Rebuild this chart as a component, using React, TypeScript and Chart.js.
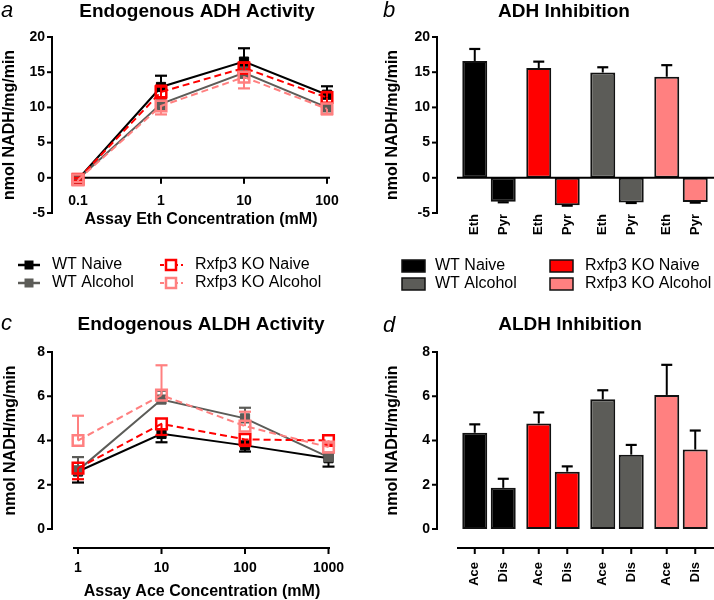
import React, { useEffect, useRef } from "react";
import { Chart, registerables } from "chart.js";
Chart.register(...registerables);

const FONT = 'Arial, "Liberation Sans", Helvetica, sans-serif';

// ---- shared series identity ----
const seriesNames = ["WT Naive", "WT Alcohol", "Rxfp3 KO Naive", "Rxfp3 KO Alcohol"];
const seriesColors = ["#000000", "#5c5c58", "#ff0000", "#ff8080"];
const seriesDashed = [false, false, true, true];

// ---- (a) Endogenous ADH Activity ----
const ethConc = [0.1, 1, 10, 100];
const ethTickLabels = ["0.1", "1", "10", "100"];
const adhYTicks = [-5, 0, 5, 10, 15, 20];
const adhWtNaive = [-0.2, 12.9, 16.5, 11.8];
const adhWtNaiveSem = [0.2, 1.6, 1.9, 1.2];
const adhWtAlcohol = [-0.2, 10.5, 14.9, 10.0];
const adhWtAlcoholSem = [0.2, 0.8, 0.7, 0.5];
const adhKoNaive = [-0.2, 12.2, 15.6, 11.4];
const adhKoNaiveSem = [0.2, 0.9, 0.8, 0.8];
const adhKoAlcohol = [-0.3, 10.2, 14.3, 9.8];
const adhKoAlcoholSem = [0.3, 1.2, 1.6, 0.8];
const adhErrDir = ["up", "both", "both", "down"];

// ---- (b) ADH Inhibition ----
const inhibGroups = ["WT Naive", "Rxfp3 KO Naive", "WT Alcohol", "Rxfp3 KO Alcohol"];
const adhInhibLabels = ["Eth", "Pyr"];
const adhEth = [16.6, 15.6, 14.95, 14.35];
const adhEthSem = [1.7, 0.9, 0.75, 1.65];
const adhPyr = [-3.4, -3.9, -3.5, -3.45];
const adhPyrSem = [0.08, 0.06, 0.08, 0.08];

// ---- (c) Endogenous ALDH Activity ----
const aceConc = [1, 10, 100, 1000];
const aceTickLabels = ["1", "10", "100", "1000"];
const aldhYTicks = [0, 2, 4, 6, 8];
const aldhWtNaive = [2.6, 4.3, 3.78, 3.2];
const aldhWtNaiveSem = [0.5, 0.38, 0.28, 0.38];
const aldhWtAlcohol = [2.65, 5.85, 5.0, 3.25];
const aldhWtAlcoholSem = [0.6, 0.4, 0.48, 0.2];
const aldhKoNaive = [2.75, 4.75, 4.05, 4.0];
const aldhKoNaiveSem = [0.5, 0.5, 0.3, 0.15];
const aldhKoAlcohol = [4.0, 6.05, 4.65, 3.7];
const aldhKoAlcoholSem = [1.12, 1.35, 0.65, 0.2];
const aldhErrDir = ["down", "up", "down", "up"];

// ---- (d) ALDH Inhibition ----
const aldhInhibLabels = ["Ace", "Dis"];
const aldhAce = [4.35, 4.77, 5.86, 6.06];
const aldhAceSem = [0.38, 0.5, 0.41, 1.36];
const aldhDis = [1.86, 2.59, 3.36, 3.59];
const aldhDisSem = [0.41, 0.24, 0.44, 0.86];

// ---------- drawing helpers ----------
function txt(ctx: CanvasRenderingContext2D, s: string, x: number, y: number, font: string,
  align: CanvasTextAlign = "center", baseline: CanvasTextBaseline = "middle", rot = 0, color = "#000") {
  ctx.save();
  ctx.translate(x, y);
  if (rot) ctx.rotate(rot);
  ctx.font = font;
  ctx.fillStyle = color;
  ctx.textAlign = align;
  ctx.textBaseline = baseline;
  ctx.fillText(s, 0, 0);
  ctx.restore();
}
function seg(ctx: CanvasRenderingContext2D, x1: number, y1: number, x2: number, y2: number,
  w = 2, color = "#000", dash: number[] = []) {
  ctx.save();
  ctx.beginPath();
  ctx.lineWidth = w;
  ctx.strokeStyle = color;
  ctx.setLineDash(dash);
  ctx.lineCap = "butt";
  ctx.moveTo(x1, y1);
  ctx.lineTo(x2, y2);
  ctx.stroke();
  ctx.restore();
}
function drawYAxis(ctx: CanvasRenderingContext2D, ys: any, axisX: number, ticks: number[]) {
  const top = ys.getPixelForValue(ticks[ticks.length - 1]);
  const bot = ys.getPixelForValue(ticks[0]);
  seg(ctx, axisX, top - 1, axisX, bot + 1, 2);
  ticks.forEach((t) => {
    const py = ys.getPixelForValue(t);
    seg(ctx, axisX - 5, py, axisX, py, 2);
    txt(ctx, String(t), axisX - 7, py, `bold 14px ${FONT}`, "right", "middle");
  });
}
function drawHeader(ctx: CanvasRenderingContext2D, cfg: any, ys: any) {
  txt(ctx, cfg.letter, cfg.letterX, cfg.letterY, `italic 22px ${FONT}`, "left", "alphabetic");
  txt(ctx, cfg.title, cfg.titleX, cfg.titleY, `bold 19px ${FONT}`, "center", "alphabetic");
  const top = ys.getPixelForValue(cfg.yTicks[cfg.yTicks.length - 1]);
  const bot = ys.getPixelForValue(cfg.yTicks[0]);
  txt(ctx, "nmol NADH/mg/min", cfg.yTitleX, (top + bot) / 2, `bold 16px ${FONT}`, "center", "middle", -Math.PI / 2);
}
function drawErrBar(ctx: CanvasRenderingContext2D, x: number, y1: number, y2: number, color: string, capHalf: number) {
  seg(ctx, x, y1, x, y2, 2, color);
  seg(ctx, x - capHalf, y2, x + capHalf, y2, 2.2, color);
}

// ---------- line panel ----------
function makeLineChart(cfg: any) {
  const plugin = {
    id: "linePanel_" + cfg.letter,
    beforeDatasetsDraw(chart: any) {
      const ctx = chart.ctx;
      const xs = chart.scales.x;
      const ys = chart.scales.y;
      const ca = chart.chartArea;
      drawYAxis(ctx, ys, cfg.yAxisX, cfg.yTicks);
      const axisY = cfg.xAxisAtZero ? ys.getPixelForValue(0) : ca.bottom + cfg.xAxisDrop;
      seg(ctx, ca.left, axisY, ca.right, axisY, 2);
      cfg.xTicks.forEach((v: number, k: number) => {
        const px = xs.getPixelForValue(v);
        seg(ctx, px, axisY, px, axisY + 6, 2);
        txt(ctx, cfg.xTickLabels[k], px, axisY + cfg.xLabelDrop, `bold 14px ${FONT}`, "center", "middle");
      });
      txt(ctx, cfg.xTitle, cfg.xTitleX, cfg.xTitleY, `bold 16px ${FONT}`, "center", "alphabetic");
    },
    beforeDatasetDraw(chart: any, args: any) {
      const i = args.index;
      const s = cfg.series[i];
      const ctx = chart.ctx;
      const ys = chart.scales.y;
      const meta = chart.getDatasetMeta(i);
      meta.data.forEach((pt: any, k: number) => {
        const v = s.values[k];
        const e = s.errors[k];
        const py = ys.getPixelForValue(v);
        if (s.dir === "up" || s.dir === "both") drawErrBar(ctx, pt.x, py, ys.getPixelForValue(v + e), s.color, 6);
        if (s.dir === "down" || s.dir === "both") drawErrBar(ctx, pt.x, py, ys.getPixelForValue(v - e), s.color, 6);
      });
    },
    afterDraw(chart: any) {
      const ctx = chart.ctx;
      drawHeader(ctx, cfg, chart.scales.y);
      if (cfg.legend) {
        const cols = [[18, 52], [18, 52], [160, 195], [160, 195]];
        const rows = [265, 283, 265, 283];
        cfg.series.forEach((s: any, i: number) => {
          const mx = cols[i][0];
          const tx = cols[i][1];
          const y = rows[i];
          const cx = mx + 11;
          if (s.dashed) {
            seg(ctx, mx, y, mx + 23, y, 2, s.color, [4, 3]);
            ctx.save();
            ctx.fillStyle = "#fff";
            ctx.fillRect(cx - 5.5, y - 5.5, 11, 11);
            ctx.lineWidth = 2.5;
            ctx.strokeStyle = s.color;
            ctx.strokeRect(cx - 5, y - 5, 10, 10);
            ctx.restore();
          } else {
            seg(ctx, mx, y, mx + 22, y, 2.5, s.color);
            ctx.save();
            ctx.fillStyle = s.color;
            ctx.fillRect(cx - 4.5, y - 4.5, 9, 9);
            ctx.restore();
          }
          txt(ctx, s.name, tx, y, `16px ${FONT}`, "left", "middle");
        });
      }
    },
  };
  const order = [3, 2, 1, 0];
  return {
    type: "line",
    data: {
      datasets: cfg.series.map((s: any, i: number) => ({
        label: s.name,
        data: s.values.map((v: number, k: number) => ({ x: cfg.xTicks[k], y: v })),
        borderColor: s.color,
        backgroundColor: s.color,
        borderWidth: 2,
        borderDash: s.dashed ? [7, 4] : [],
        pointStyle: "rect",
        pointRadius: s.dashed ? 7.5 : 6.5,
        pointBorderWidth: s.dashed ? 2.5 : 1,
        pointBackgroundColor: s.dashed ? "rgba(255,255,255,0)" : s.color,
        pointBorderColor: s.color,
        tension: 0,
        order: order[i],
        clip: false,
      })),
    },
    options: {
      responsive: false,
      animation: false,
      events: [],
      layout: { padding: cfg.padding },
      plugins: { legend: { display: false }, title: { display: false }, tooltip: { enabled: false } },
      scales: {
        x: { type: "logarithmic", min: cfg.xMin, max: cfg.xMax, display: false },
        y: { type: "linear", min: cfg.yTicks[0], max: cfg.yTicks[cfg.yTicks.length - 1], display: false },
      },
    },
    plugins: [plugin],
  };
}

// ---------- bar panel ----------
function makeBarChart(cfg: any) {
  const colors = inhibGroups.map((g) => seriesColors[seriesNames.indexOf(g)]);
  const plugin = {
    id: "barPanel_" + cfg.letter,
    beforeDatasetsDraw(chart: any) {
      drawYAxis(chart.ctx, chart.scales.y, cfg.yAxisX, cfg.yTicks);
    },
    afterDatasetsDraw(chart: any) {
      const ctx = chart.ctx;
      const ys = chart.scales.y;
      const ca = chart.chartArea;
      cfg.bars.forEach((b: any, i: number) => {
        const meta = chart.getDatasetMeta(i);
        meta.data.forEach((el: any, k: number) => {
          const v = b.values[k];
          const e = b.errors[k];
          const py = ys.getPixelForValue(v);
          const pe = ys.getPixelForValue(v >= 0 ? v + e : v - e);
          drawErrBar(ctx, el.x, py, pe, "#000", 5.5);
        });
      });
      if (cfg.zeroLine) {
        const y0 = ys.getPixelForValue(0);
        seg(ctx, ca.left, y0, ca.right + 1, y0, 2);
      }
      let labelTop = ca.bottom + 1;
      if (cfg.xAxisDrop) {
        const ay = ca.bottom + cfg.xAxisDrop;
        seg(ctx, ca.left, ay, ca.right + 1, ay, 2);
        labelTop = ay + 14;
        cfg.bars.forEach((b: any, i: number) => {
          chart.getDatasetMeta(i).data.forEach((el: any) => seg(ctx, el.x, ay, el.x, ay + 6, 2));
        });
      }
      cfg.bars.forEach((b: any, i: number) => {
        chart.getDatasetMeta(i).data.forEach((el: any) => {
          txt(ctx, b.label, el.x, labelTop, `bold 13px ${FONT}`, "right", "middle", -Math.PI / 2);
        });
      });
    },
    afterDraw(chart: any) {
      const ctx = chart.ctx;
      drawHeader(ctx, cfg, chart.scales.y);
      if (cfg.legend) {
        const cols = [[45, 78], [45, 78], [193, 228], [193, 228]];
        const rows = [266, 284, 266, 284];
        seriesNames.forEach((name, i) => {
          const [mx, tx] = cols[i];
          const y = rows[i];
          ctx.save();
          ctx.fillStyle = seriesColors[i];
          ctx.fillRect(mx, y - 6, 23, 12);
          ctx.lineWidth = 1.5;
          ctx.strokeStyle = "#111";
          ctx.strokeRect(mx, y - 6, 23, 12);
          ctx.restore();
          txt(ctx, name, tx, y, `16px ${FONT}`, "left", "middle");
        });
      }
    },
  };
  return {
    type: "bar",
    data: {
      labels: inhibGroups,
      datasets: cfg.bars.map((b: any) => ({
        label: b.label,
        data: b.values,
        backgroundColor: colors,
        borderColor: "#111",
        borderWidth: 2,
        borderSkipped: false,
        categoryPercentage: 0.89,
        barPercentage: 0.877,
      })),
    },
    options: {
      responsive: false,
      animation: false,
      events: [],
      layout: { padding: cfg.padding },
      plugins: { legend: { display: false }, title: { display: false }, tooltip: { enabled: false } },
      scales: {
        x: { type: "category", display: false },
        y: { type: "linear", min: cfg.yTicks[0], max: cfg.yTicks[cfg.yTicks.length - 1], display: false },
      },
    },
    plugins: [plugin],
  };
}

function lineSeries(vals: number[][], errs: number[][], dirs: string[]) {
  return seriesNames.map((name, i) => ({
    name,
    values: vals[i],
    errors: errs[i],
    color: seriesColors[i],
    dashed: seriesDashed[i],
    dir: dirs[i],
  }));
}

const configA = () =>
  makeLineChart({
    letter: "a", letterX: 1, letterY: 17,
    title: "Endogenous ADH Activity", titleX: 197, titleY: 17,
    yTitleX: 10, yAxisX: 52, yTicks: adhYTicks,
    xTicks: ethConc, xTickLabels: ethTickLabels, xAxisAtZero: true, xLabelDrop: 23,
    xTitle: "Assay Eth Concentration (mM)", xTitleX: 201, xTitleY: 224,
    xMin: 0.087, xMax: 108.7,
    padding: { left: 73, right: 27, top: 37, bottom: 87 },
    legend: true,
    series: lineSeries(
      [adhWtNaive, adhWtAlcohol, adhKoNaive, adhKoAlcohol],
      [adhWtNaiveSem, adhWtAlcoholSem, adhKoNaiveSem, adhKoAlcoholSem],
      adhErrDir
    ),
  });

const configC = () =>
  makeLineChart({
    letter: "c", letterX: 1, letterY: 30,
    title: "Endogenous ALDH Activity", titleX: 201, titleY: 30,
    yTitleX: 11, yAxisX: 52, yTicks: aldhYTicks,
    xTicks: aceConc, xTickLabels: aceTickLabels, xAxisAtZero: false, xAxisDrop: 19, xLabelDrop: 20,
    xTitle: "Assay Ace Concentration (mM)", xTitleX: 202, xTitleY: 296,
    xMin: 0.871, xMax: 1042,
    padding: { left: 73, right: 27, top: 52, bottom: 71 },
    legend: false,
    series: lineSeries(
      [aldhWtNaive, aldhWtAlcohol, aldhKoNaive, aldhKoAlcohol],
      [aldhWtNaiveSem, aldhWtAlcoholSem, aldhKoNaiveSem, aldhKoAlcoholSem],
      aldhErrDir
    ),
  });

const configB = () =>
  makeBarChart({
    letter: "b", letterX: 26, letterY: 17,
    title: "ADH Inhibition", titleX: 207, titleY: 17,
    yTitleX: 36, yAxisX: 80, yTicks: adhYTicks,
    padding: { left: 100, right: 1, top: 37, bottom: 87 },
    zeroLine: true, xAxisDrop: 0, legend: true,
    bars: [
      { label: adhInhibLabels[0], values: adhEth, errors: adhEthSem },
      { label: adhInhibLabels[1], values: adhPyr, errors: adhPyrSem },
    ],
  });

const configD = () =>
  makeBarChart({
    letter: "d", letterX: 26, letterY: 32,
    title: "ALDH Inhibition", titleX: 213, titleY: 30,
    yTitleX: 36, yAxisX: 80, yTicks: aldhYTicks,
    padding: { left: 100, right: 1, top: 52, bottom: 71 },
    zeroLine: false, xAxisDrop: 19, legend: false,
    bars: [
      { label: aldhInhibLabels[0], values: aldhAce, errors: aldhAceSem },
      { label: aldhInhibLabels[1], values: aldhDis, errors: aldhDisSem },
    ],
  });

function Panel({ left, top, make }: { left: number; top: number; make: () => any }) {
  const ref = useRef<HTMLCanvasElement>(null);
  useEffect(() => {
    const chart = new Chart(ref.current as HTMLCanvasElement, make());
    return () => chart.destroy();
  }, []);
  return (
    <canvas
      ref={ref}
      width={357}
      height={300}
      style={{ position: "absolute", left, top, width: 357, height: 300, display: "block" }}
    />
  );
}

export default function App() {
  return (
    <div style={{ position: "absolute", left: 0, top: 0, width: 714, height: 600, background: "#fff", overflow: "hidden" }}>
      <Panel left={0} top={0} make={configA} />
      <Panel left={357} top={0} make={configB} />
      <Panel left={0} top={300} make={configC} />
      <Panel left={357} top={300} make={configD} />
    </div>
  );
}
